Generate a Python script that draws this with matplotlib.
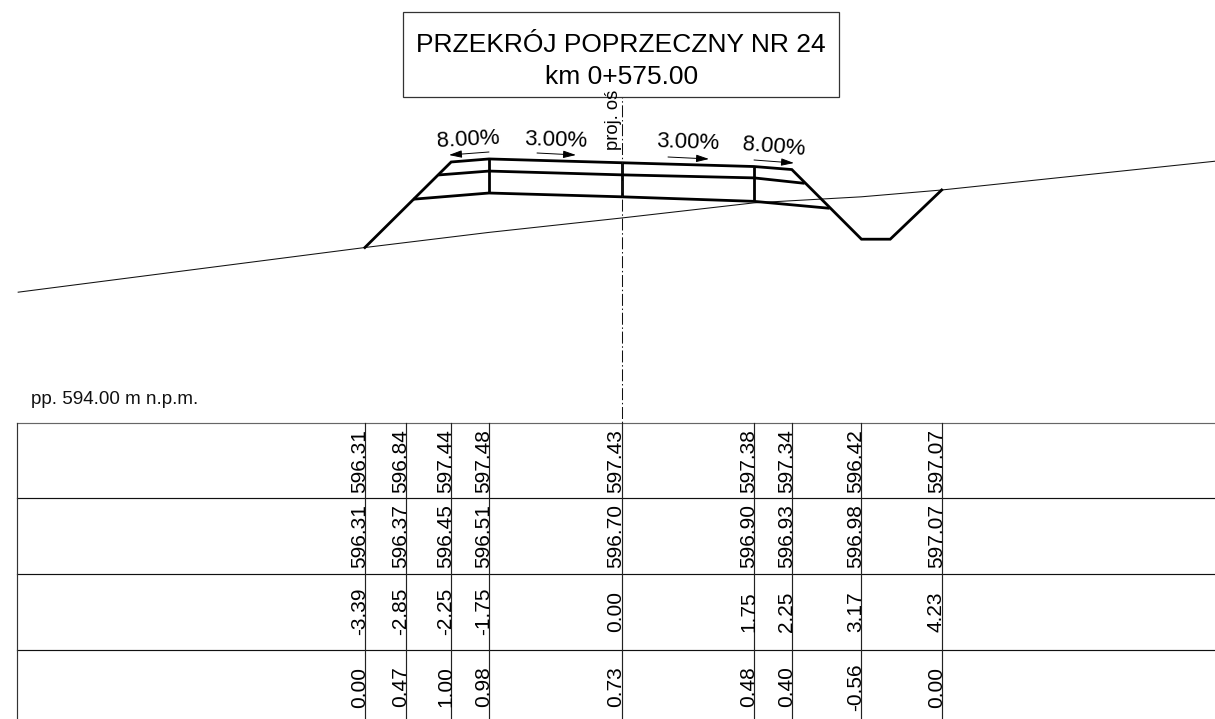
import matplotlib
matplotlib.use("Agg")
import matplotlib.pyplot as plt

plt.rcParams['font.family'] = ['Liberation Sans', 'DejaVu Sans']

# ---- data (metres) ----
offsets = [-3.39, -2.85, -2.25, -1.75, 0.00, 1.75, 2.25, 3.17, 4.23]
design = [596.31, 596.84, 597.44, 597.48, 597.43, 597.38, 597.34, 596.42, 597.07]
terrain = [596.31, 596.37, 596.45, 596.51, 596.70, 596.90, 596.93, 596.98, 597.07]
depth = ['0.00', '0.47', '1.00', '0.98', '0.73', '0.48', '0.40', '-0.56', '0.00']

ground_x = [-7.97, -3.39, -1.75, 0.00, 1.75, 3.17, 4.23, 7.84]
ground_z = [595.72, 596.31, 596.51, 596.70, 596.90, 596.98, 597.07, 597.45]

surface_x = [-3.39, -2.25, -1.75, 0.00, 1.75, 2.25, 3.17, 3.55, 4.23]
surface_z = [596.31, 597.44, 597.48, 597.43, 597.38, 597.34, 596.42, 596.42, 597.07]

layer2_x = [-2.40, -1.75, 0.00, 1.75, 2.40]
layer2_z = [597.27, 597.32, 597.27, 597.23, 597.16]
layer3_x = [-2.73, -1.75, 0.00, 1.75, 2.73]
layer3_z = [596.95, 597.03, 596.98, 596.92, 596.83]
studs_x = [-1.75, 0.00, 1.75]
studs_top = [597.48, 597.43, 597.38]
studs_bot = [597.03, 596.98, 596.92]

title_top = 'PRZEKRÓJ POPRZECZNY NR 24'
title_sub = 'km 0+575.00'
slopes = ['8.00%', '3.00%', '3.00%', '8.00%']
datum = 'pp. 594.00 m n.p.m.'
axis_label = 'proj. oś'

# ---- layout ----
W, H = 1215, 719
PX_PER_M = 75.7
X0, Z0_PX = 621.5, 218.0
Z0 = 596.70

fig = plt.figure(figsize=(W / 100, H / 100), dpi=100)
ax = fig.add_axes([0, 0, 1, 1])
ax.set_xlim(-X0 / PX_PER_M, (W - X0) / PX_PER_M)
ax.set_ylim(Z0 - (H - Z0_PX) / PX_PER_M, Z0 + Z0_PX / PX_PER_M)
ax.axis('off')

pix = fig.add_axes([0, 0, 1, 1], facecolor='none')
pix.set_xlim(0, W)
pix.set_ylim(H, 0)
pix.axis('off')

def xpx(v):
    return X0 + v * PX_PER_M

THICK = 2.0
THIN = 0.75
TBL = 0.85
INK = '#111111'

# section
ax.plot(ground_x, ground_z, color=INK, lw=THIN)
ax.plot(surface_x, surface_z, color='black', lw=THICK, solid_joinstyle='miter')
ax.plot(layer2_x, layer2_z, color='black', lw=THICK)
ax.plot(layer3_x, layer3_z, color='black', lw=THICK)
ax.vlines(studs_x, studs_bot, studs_top, color='black', lw=THICK)

# axis line
pix.plot([X0, X0], [86.3, 423], color=INK, lw=THIN, ls=(0, (11.5, 2.6, 1.4, 2.6)))

# title box
pix.add_patch(plt.Rectangle((403, 12), 436, 85, fc='white', ec='#333333', lw=0.9, zorder=3))
pix.text(621, 42.5, title_top, ha='center', va='center_baseline', fontsize=19, color='black', zorder=4)
pix.text(621.5, 74, title_sub, ha='center', va='center_baseline', fontsize=19, color='black', zorder=4)
pix.text(618, 120, axis_label, rotation=90, ha='center', va='baseline',
         rotation_mode='anchor', fontsize=13.2, color='black', zorder=5)

# slope labels and arrows
lab_pos = [(468, 140, 3.0), (556, 140, -1.7), (688, 143, -2.0), (774, 147, -4.6)]
arr_pos = [((489, 152), (449, 155)), ((537, 153), (576, 155)),
           ((668, 157), (709, 159)), ((754, 160), (794, 163))]
for s, (lx, ly, r), (a, b) in zip(slopes, lab_pos, arr_pos):
    pix.text(lx, ly, s, rotation=r, ha='center', va='center', fontsize=16, color='black',
             rotation_mode='anchor')
    pix.annotate('', xy=b, xytext=a,
                 arrowprops=dict(arrowstyle='-|>,head_length=0.55,head_width=0.16',
                                 color='black', lw=0.7, shrinkA=0, shrinkB=0,
                                 mutation_scale=14))

# datum
pix.text(31, 400, datum, ha='left', va='center', fontsize=13.6, color='#111111')

# table
rows_y = [423, 498, 574, 649.5]
row_col = ['#666666', INK, INK, INK]
centers = [461, 536, 611.5, 687]
LEFT = 16.5
for y, c in zip(rows_y, row_col):
    pix.plot([LEFT, W], [y, y], color=c, lw=TBL)
pix.plot([LEFT, LEFT], [423, H], color='#333333', lw=TBL)
for v in offsets:
    pix.plot([xpx(v), xpx(v)], [423, H], color='#222222', lw=TBL)

row_values = [[f'{d:.2f}' for d in design],
              [f'{t:.2f}' for t in terrain],
              [f'{o:.2f}' for o in offsets],
              depth]
for cy, labels in zip(centers, row_values):
    for v, s in zip(offsets, labels):
        pix.text(xpx(v), cy, s, rotation=90, ha='center', va='baseline',
                 rotation_mode='anchor', fontsize=15, color='black')

fig.savefig('out.png', dpi=100, facecolor='white')
